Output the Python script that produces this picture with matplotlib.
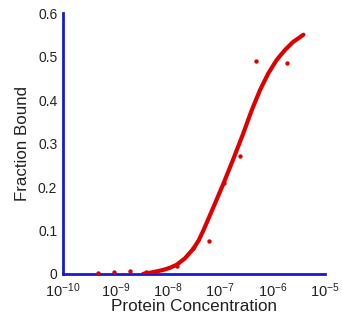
import math
import matplotlib
matplotlib.use("Agg")
import matplotlib.pyplot as plt
import matplotlib.ticker as ticker

plt.rcParams['font.family'] = ['Liberation Sans', 'DejaVu Sans']
plt.rcParams['mathtext.fontset'] = 'custom'
plt.rcParams['mathtext.rm'] = 'Liberation Sans'
plt.rcParams['mathtext.default'] = 'regular'

# measured points (log10 of concentration, fraction bound)
point_logx = [-9.33, -9.02, -8.72, -8.42, -7.83, -7.52, -7.22, -6.93, -6.62, -6.32, -5.72]
point_y = [0.002, 0.004, 0.007, 0.004, 0.019, 0.059, 0.076, 0.209, 0.272, 0.490, 0.485]

# fitted curve
curve_logx = [-8.47, -8.28, -8.09, -7.96, -7.83, -7.67, -7.51, -7.41, -7.32, -7.13, -6.94,
              -6.75, -6.56, -6.40, -6.24, -6.08, -5.92, -5.76, -5.61, -5.41]
curve_y = [0.0, 0.004, 0.009, 0.014, 0.021, 0.036, 0.058, 0.077, 0.100, 0.153, 0.207,
           0.264, 0.323, 0.376, 0.423, 0.462, 0.493, 0.516, 0.534, 0.551]

x_ticks = [1e-10, 1e-9, 1e-8, 1e-7, 1e-6, 1e-5]
y_ticks = [0, 0.1, 0.2, 0.3, 0.4, 0.5, 0.6]
y_tick_labels = ['0', '0.1', '0.2', '0.3', '0.4', '0.5', '0.6']

point_x = [10 ** v for v in point_logx]
curve_x = [10 ** v for v in curve_logx]

fig = plt.figure(figsize=(3.42, 3.2), dpi=100)
ax = fig.add_axes([0.184, 0.144, 0.766, 0.814])

ax.plot(curve_x, curve_y, color='#dd0000', lw=3, solid_capstyle='round',
        solid_joinstyle='round', zorder=3)
ax.scatter(point_x, point_y, s=10, color='#dd0000', zorder=4, linewidths=0)

ax.set_xscale('log')
ax.set_xlim(1e-10, 1e-5)
ax.set_ylim(0, 0.6)
ax.xaxis.set_major_locator(ticker.FixedLocator(x_ticks))
ax.xaxis.set_minor_locator(ticker.NullLocator())
ax.xaxis.set_major_formatter(ticker.FuncFormatter(
    lambda v, p: '$10^{%d}$' % round(math.log10(v))))
ax.set_yticks(y_ticks)
ax.set_yticklabels(y_tick_labels)

# only left and bottom axis lines, in blue
ax.spines['right'].set_color('none')
ax.spines['top'].set_color('none')
for s in ('left', 'bottom'):
    ax.spines[s].set_color('#1a1acc')
    ax.spines[s].set_linewidth(2)

ax.tick_params(length=0, colors='#222222')
ax.tick_params(axis='y', labelsize=10, pad=4)
ax.tick_params(axis='x', labelsize=10.5, pad=5.5)

ax.set_xlabel('Protein Concentration', fontsize=12.3, color='#222222', labelpad=-1)
ax.set_ylabel('Fraction Bound', fontsize=12.2, color='#222222', labelpad=6)

fig.savefig('out.png', dpi=100)
